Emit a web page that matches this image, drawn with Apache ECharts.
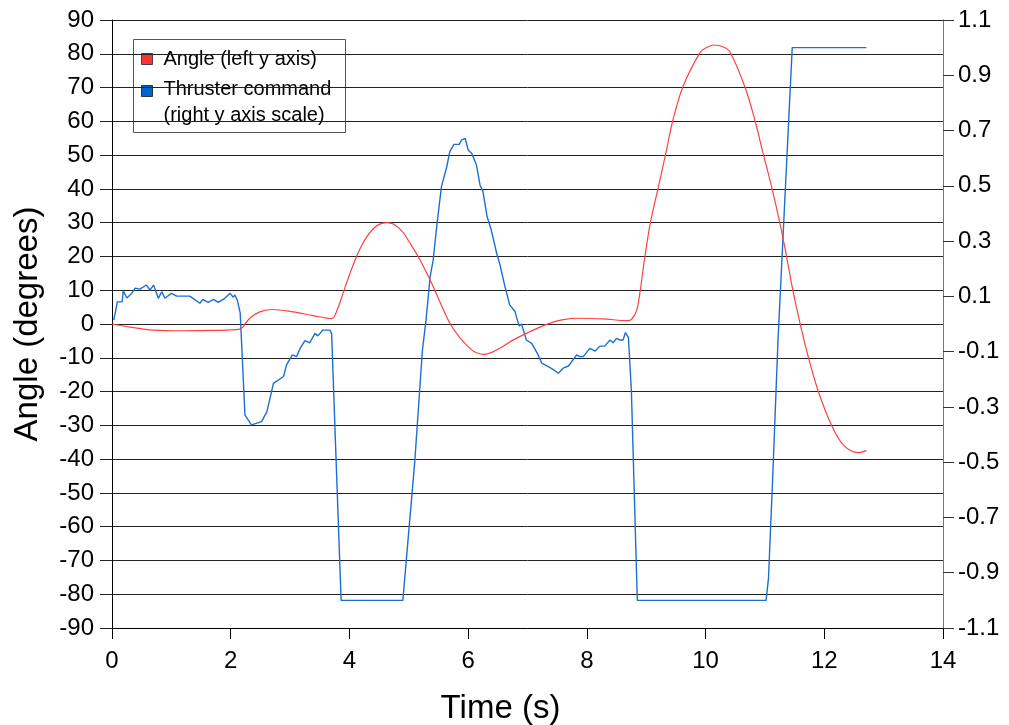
<!DOCTYPE html>
<html>
<head>
<meta charset="utf-8">
<title>Angle and thruster command</title>
<script src="https://cdn.jsdelivr.net/npm/echarts@6/dist/echarts.min.js"></script>
<style>
  html, body { margin: 0; padding: 0; background: #fff; }
  #chart { width: 1009px; height: 725px; }
</style>
</head>
<body>
<div id="chart"></div>
<script>
// Pendulum angle (degrees, left axis) over time (s)
const angleTime = [0, 0.3, 0.69, 1.2, 1.7, 2.14, 2.32, 2.49, 2.71, 3.05, 3.39, 3.7, 3.8, 3.9, 4.0, 4.1, 4.2, 4.3, 4.4, 4.5, 4.63, 4.75, 4.9, 5.0, 5.16, 5.36, 5.5, 5.69, 5.85, 6.03, 6.15, 6.27, 6.4, 6.55, 6.76, 7.04, 7.32, 7.6, 7.9, 8.27, 8.7, 8.76, 8.84, 8.9, 8.95, 9.0, 9.07, 9.21, 9.33, 9.45, 9.62, 9.9, 10.0, 10.15, 10.3, 10.41, 10.66, 10.83, 10.96, 11.11, 11.25, 11.36, 11.47, 11.59, 11.73, 11.9, 12.12, 12.32, 12.57, 12.71];
const angleDeg  = [0, -0.9, -1.8, -2.0, -1.9, -1.6, 1.7, 3.6, 4.3, 3.6, 2.5, 1.6, 4.5, 9.5, 14.5, 19.2, 23.0, 26.0, 28.2, 29.5, 30.0, 29.5, 27.2, 24.5, 19.9, 13.0, 7.5, 0.3, -3.8, -7.2, -8.6, -9.0, -8.4, -7.0, -4.7, -2.3, -0.1, 1.3, 1.7, 1.5, 1.0, 1.5, 4.1, 10.0, 16.5, 22.5, 30.0, 41.0, 50.5, 60.4, 70.3, 80.2, 81.7, 82.6, 82.0, 80.6, 70.3, 60.4, 51.2, 40.8, 30.0, 20.4, 10.0, 0.3, -9.7, -20.0, -29.9, -35.8, -38.1, -37.5];

// Thruster command (right axis scale, -1 .. 1) over time (s)
const thrusterTime = [0.03, 0.09, 0.17, 0.19, 0.25, 0.33, 0.39, 0.47, 0.58, 0.64, 0.7, 0.78, 0.84, 0.89, 1.0, 1.09, 1.31, 1.48, 1.53, 1.62, 1.71, 1.79, 1.9, 1.99, 2.04, 2.07, 2.11, 2.16, 2.24, 2.35, 2.52, 2.61, 2.72, 2.89, 2.94, 3.04, 3.11, 3.17, 3.25, 3.33, 3.42, 3.47, 3.55, 3.67, 3.7, 3.77, 3.86, 4.9, 5.1, 5.23, 5.29, 5.36, 5.41, 5.47, 5.55, 5.64, 5.69, 5.76, 5.85, 5.89, 5.95, 6.0, 6.06, 6.14, 6.2, 6.25, 6.32, 6.39, 6.48, 6.53, 6.62, 6.7, 6.79, 6.83, 6.86, 6.9, 6.98, 7.07, 7.18, 7.24, 7.35, 7.43, 7.52, 7.6, 7.69, 7.83, 7.88, 7.94, 8.05, 8.14, 8.22, 8.3, 8.39, 8.44, 8.5, 8.56, 8.61, 8.65, 8.7, 8.75, 8.85, 11.02, 11.06, 11.13, 11.22, 11.46, 12.71];
const thrusterCmd  = [0.014, 0.08, 0.08, 0.12, 0.094, 0.11, 0.13, 0.126, 0.141, 0.123, 0.141, 0.093, 0.117, 0.093, 0.111, 0.101, 0.101, 0.075, 0.089, 0.078, 0.089, 0.078, 0.093, 0.111, 0.097, 0.105, 0.087, 0.039, -0.33, -0.365, -0.353, -0.317, -0.215, -0.19, -0.148, -0.112, -0.118, -0.088, -0.06, -0.068, -0.034, -0.043, -0.022, -0.022, -0.034, -0.46, -1.0, -1.0, -0.5, -0.094, 0.014, 0.171, 0.23, 0.352, 0.497, 0.569, 0.623, 0.65, 0.65, 0.666, 0.672, 0.63, 0.618, 0.575, 0.503, 0.479, 0.388, 0.34, 0.256, 0.22, 0.135, 0.069, 0.045, 0.014, -0.007, 0, -0.058, -0.07, -0.112, -0.142, -0.154, -0.164, -0.178, -0.16, -0.152, -0.112, -0.118, -0.118, -0.088, -0.098, -0.08, -0.08, -0.058, -0.068, -0.052, -0.058, -0.058, -0.031, -0.048, -0.24, -1.0, -1.0, -0.92, -0.56, -0.06, 1.0, 1.0];

// Axis ranges and tick spacing
const timeRange = [0, 14, 2];
const angleRange = [-90, 90, 10];
const thrusterRange = [-1.1, 1.1, 0.2];

const legendItems = ['Angle (left y axis)', 'Thruster command', '(right y axis scale)'];

const FONT = 'Liberation Sans, Arial, sans-serif';
const RED = '#ff4040';
const BLUE = '#1c6fd2';
const GRID = '#222';

const zip = (xs, ys) => xs.map((x, i) => [x, ys[i]]);

const chart = echarts.init(document.getElementById('chart'), null, { renderer: 'canvas' });

chart.setOption({
  animation: false,
  backgroundColor: '#fff',
  textStyle: { fontFamily: FONT },
  grid: { left: 112, right: 66, top: 20, bottom: 97, containLabel: false, outerBoundsMode: 'none' },
  xAxis: {
    type: 'value',
    min: timeRange[0], max: timeRange[1], interval: timeRange[2],
    name: 'Time (s)', nameLocation: 'middle', nameGap: 64,
    nameTextStyle: { fontSize: 33, color: '#000', fontFamily: FONT, padding: [0, 54, 0, 0] },
    axisLine: { show: true, onZero: false, lineStyle: { color: '#000', width: 1 } },
    axisTick: { show: true, inside: false, length: 11, lineStyle: { color: '#000' } },
    axisLabel: { fontSize: 24, color: '#000', margin: 21, fontFamily: FONT },
    splitLine: { show: false }
  },
  yAxis: [
    {
      type: 'value',
      min: angleRange[0], max: angleRange[1], interval: angleRange[2],
      name: 'Angle (degrees)', nameLocation: 'middle', nameGap: 68, nameRotate: 90,
      nameTextStyle: { fontSize: 33, color: '#000', fontFamily: FONT },
      axisLine: { show: true, onZero: false, lineStyle: { color: '#000', width: 1 } },
      axisTick: { show: true, inside: false, length: 12, lineStyle: { color: GRID } },
      axisLabel: { fontSize: 24, color: '#000', margin: 18, fontFamily: FONT },
      splitLine: { show: true, lineStyle: { color: GRID, width: 1 } }
    },
    {
      type: 'value',
      position: 'right',
      min: thrusterRange[0], max: thrusterRange[1], interval: thrusterRange[2],
      axisLine: { show: true, onZero: false, lineStyle: { color: '#777', width: 1 } },
      axisTick: { show: true, inside: false, length: 11, lineStyle: { color: '#333' } },
      axisLabel: {
        fontSize: 24, color: '#000', margin: 15, fontFamily: FONT,
        formatter: v => (Math.abs(v) < 1e-9 ? 0 : v).toFixed(1)
      },
      splitLine: { show: false }
    }
  ],
  series: [
    {
      name: 'Angle',
      type: 'line',
      yAxisIndex: 0,
      data: zip(angleTime, angleDeg),
      smooth: 0.35,
      showSymbol: false,
      lineStyle: { color: RED, width: 1.2 },
      z: 3
    },
    {
      name: 'Thruster command',
      type: 'line',
      yAxisIndex: 1,
      data: zip(thrusterTime, thrusterCmd),
      showSymbol: false,
      lineStyle: { color: BLUE, width: 1.4 },
      z: 2
    }
  ],
  graphic: [
    {
      type: 'group',
      left: 133, top: 39,
      children: [
        { type: 'rect', shape: { x: 0, y: 0, width: 212, height: 93 },
          style: { fill: '#fff', stroke: '#555', lineWidth: 1 } },
        { type: 'rect', shape: { x: 8, y: 14, width: 11, height: 11 },
          style: { fill: '#ff3333', stroke: '#444', lineWidth: 1 } },
        { type: 'rect', shape: { x: 8, y: 46, width: 11, height: 11 },
          style: { fill: '#0066cc', stroke: '#333', lineWidth: 1 } },
        { type: 'text', x: 30, y: 19.5,
          style: { text: legendItems[0], font: '20px ' + FONT, fill: '#000', verticalAlign: 'middle' } },
        { type: 'text', x: 30, y: 50,
          style: { text: legendItems[1], font: '20px ' + FONT, fill: '#000', verticalAlign: 'middle' } },
        { type: 'text', x: 30, y: 76,
          style: { text: legendItems[2], font: '20px ' + FONT, fill: '#000', verticalAlign: 'middle' } }
      ]
    }
  ]
});
</script>
</body>
</html>
